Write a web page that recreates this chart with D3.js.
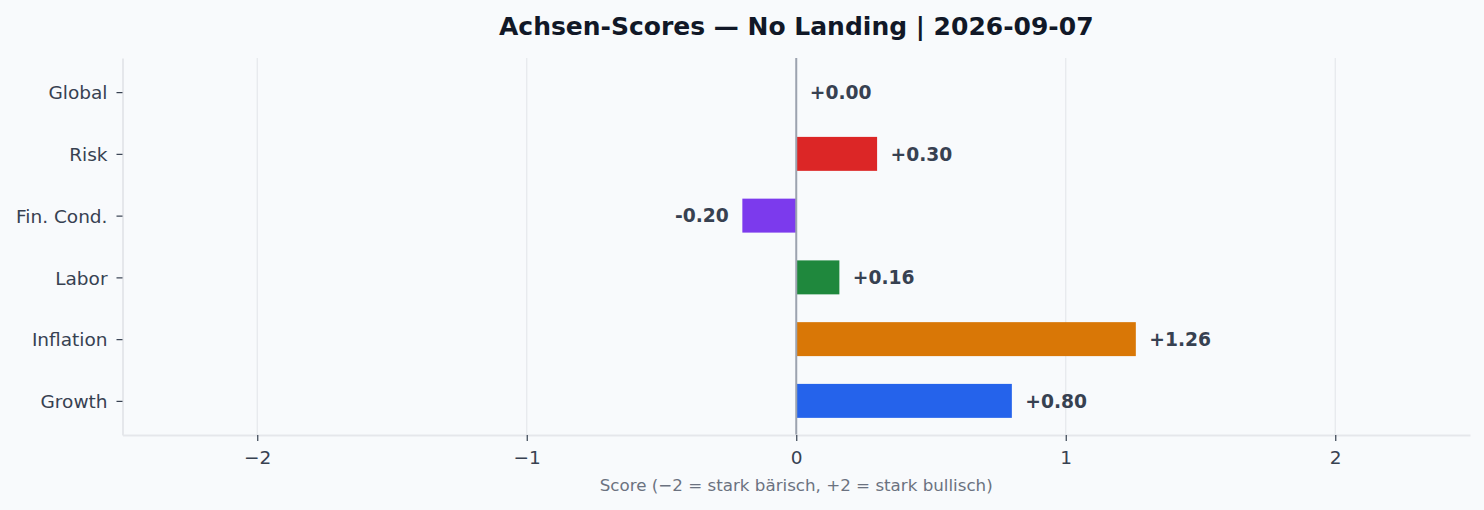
<!DOCTYPE html>
<html>
<head>
<meta charset="utf-8">
<script src="https://cdn.jsdelivr.net/npm/d3@7"></script>
<style>
  html, body { margin: 0; padding: 0; background: #f8fafc; }
  svg { display: block; font-family: "DejaVu Sans", sans-serif; }
</style>
</head>
<body>
<svg id="chart" width="1484" height="510"></svg>
<script>
// axis order bottom -> top, like the original barh
const categories = ["Growth", "Inflation", "Labor", "Fin. Cond.", "Risk", "Global"]
const scores = [0.80, 1.26, 0.16, -0.20, 0.30, 0.00]
const barColors = ["#2563eb", "#d97706", "#1f883d", "#7c3aed", "#dc2626", "#6b7280"]
const xTicks = [-2, -1, 0, 1, 2]

const title = "Achsen-Scores — No Landing | 2026-09-07"
const xLabel = "Score (\u22122 = stark bärisch, +2 = stark bullisch)"

const margin = { left: 122.5, right: 14, top: 58, bottom: 75 }
const width = 1484, height = 510
const barHeight = 0.55

const svg = d3.select("#chart")

const x = d3.scaleLinear()
    .domain([-2.5, 2.5])
    .range([margin.left, width - margin.right])

// matplotlib style: 5% margin around bar extents
const yPad = (categories.length - 1 + barHeight) * 0.05
const y = d3.scaleLinear()
    .domain([-barHeight / 2 - yPad, categories.length - 1 + barHeight / 2 + yPad])
    .range([height - margin.bottom, margin.top])

const data = categories.map((c, i) => ({ cat: c, i: i, v: scores[i], color: barColors[i] }))

// grid
svg.append("g")
    .selectAll("line")
    .data(xTicks)
    .join("line")
    .attr("x1", d => x(d)).attr("x2", d => x(d))
    .attr("y1", y.range()[1]).attr("y2", y.range()[0])
    .attr("stroke", "#e5e7eb")
    .attr("stroke-width", 1.2)

// bars
svg.append("g")
    .selectAll("rect")
    .data(data.filter(d => d.v !== 0))
    .join("rect")
    .attr("x", d => x(Math.min(0, d.v)))
    .attr("width", d => Math.abs(x(d.v) - x(0)))
    .attr("y", d => y(d.i + barHeight / 2))
    .attr("height", d => y(d.i - barHeight / 2) - y(d.i + barHeight / 2))
    .attr("fill", d => d.color)

// zero line
svg.append("line")
    .attr("x1", x(0)).attr("x2", x(0))
    .attr("y1", y.range()[1]).attr("y2", y.range()[0])
    .attr("stroke", "#9ca3af")
    .attr("stroke-width", 2)

// value labels
svg.append("g")
    .selectAll("text")
    .data(data)
    .join("text")
    .attr("x", d => d.v < 0 ? x(d.v - 0.05) : x(d.v + 0.05))
    .attr("y", d => y(d.i))
    .attr("dy", "0.36em")
    .attr("text-anchor", d => d.v < 0 ? "end" : "start")
    .attr("font-size", 18.7)
    .attr("font-weight", "bold")
    .attr("fill", "#374151")
    .text(d => (d.v < 0 ? "" : "+") + d.v.toFixed(2))

// axes
const xAxis = d3.axisBottom(x)
    .tickValues(xTicks)
    .tickFormat(d => d < 0 ? "\u2212" + Math.abs(d) : String(d))
    .tickSizeInner(6)
    .tickSizeOuter(0)
    .tickPadding(10)

const yAxis = d3.axisLeft(y)
    .tickValues(d3.range(categories.length))
    .tickFormat(i => categories[i])
    .tickSizeInner(6)
    .tickSizeOuter(0)
    .tickPadding(9)

const gx = svg.append("g")
    .attr("transform", "translate(0," + y.range()[0] + ")")
    .call(xAxis)

const gy = svg.append("g")
    .attr("transform", "translate(" + margin.left + ",0)")
    .call(yAxis)

for (const g of [gx, gy]) {
    g.select(".domain").attr("stroke", "#e5e7eb").attr("stroke-width", 2)
    g.selectAll(".tick line").attr("stroke", "#374151").attr("stroke-width", 1.2)
    g.selectAll(".tick text")
        .attr("fill", "#374151")
        .attr("font-size", 18.5)
        .attr("font-family", "DejaVu Sans")
}
gy.selectAll(".tick text").attr("dy", "0.36em")

// title and axis label
svg.append("text")
    .attr("x", x(0))
    .attr("y", 34.5)
    .attr("text-anchor", "middle")
    .attr("font-size", 25)
    .attr("font-weight", "bold")
    .attr("fill", "#111827")
    .text(title)

svg.append("text")
    .attr("x", x(0))
    .attr("y", 491)
    .attr("text-anchor", "middle")
    .attr("font-size", 16.7)
    .attr("fill", "#6b7280")
    .text(xLabel)
</script>
</body>
</html>
